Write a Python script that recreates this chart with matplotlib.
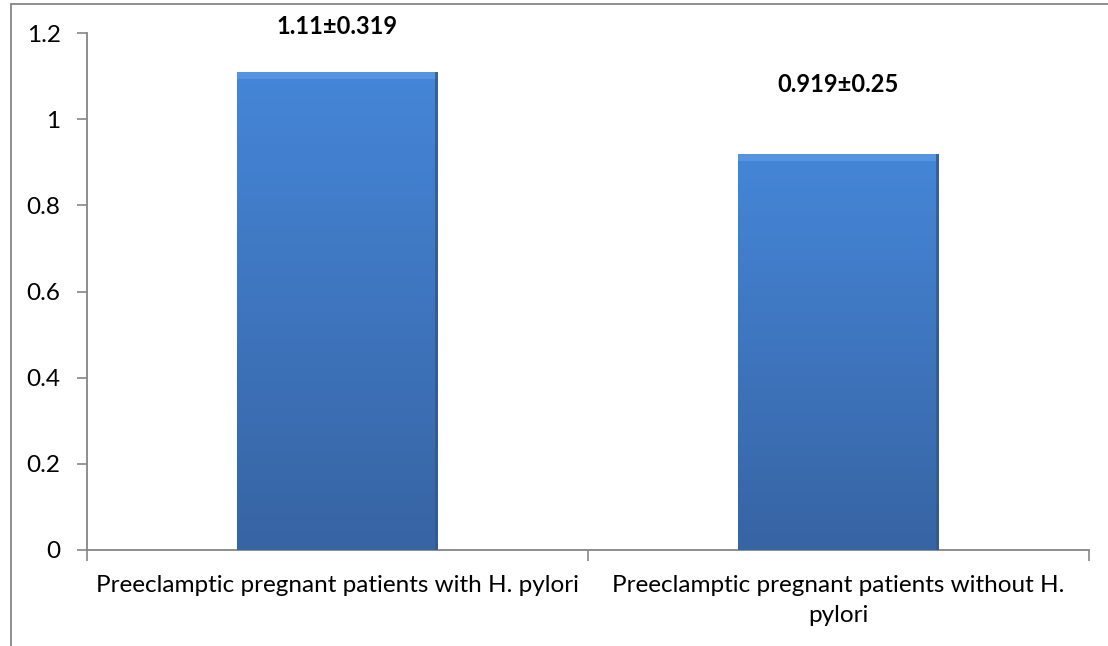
import numpy as np
import matplotlib
matplotlib.use('Agg')
from matplotlib import pyplot as plt
from matplotlib.patches import Rectangle
from matplotlib.colors import LinearSegmentedColormap

# data
categories = ['Preeclamptic pregnant patients with H. pylori',
              'Preeclamptic pregnant patients without H.\npylori']
values = [1.11, 0.919]
labels = ['1.11\u00b10.319', '0.919\u00b10.25']
label_y = [1.215, 1.08]
yticks = [0, 0.2, 0.4, 0.6, 0.8, 1.0, 1.2]
ytick_labels = ['0', '0.2', '0.4', '0.6', '0.8', '1', '1.2']

plt.rcParams['font.family'] = ['Lato', 'DejaVu Sans']
grey = '#868686'

fig = plt.figure(figsize=(11.08, 6.46), dpi=100)
ax = fig.add_axes([87/1108, 96/646, (1089-87)/1108, (550-33)/646])

# outer chart-area border (only left and top visible)
fig.add_artist(Rectangle((11/1108, -0.1), 1.2, (646-4)/646 + 0.1,
                         transform=fig.transFigure, fill=False,
                         edgecolor=grey, linewidth=1.3))

x = np.arange(len(values))
bars = ax.bar(x, values, width=0.4, color='#3f78c4', zorder=2)

cmap = LinearSegmentedColormap.from_list('blue', ['#3764a3', '#4586d8'])
grad = np.linspace(0, 1, 256).reshape(-1, 1)
for b in bars:
    x0, w, h = b.get_x(), b.get_width(), b.get_height()
    im = ax.imshow(grad, cmap=cmap, origin='lower', aspect='auto',
                   extent=[x0, x0 + w, 0, h], zorder=3)
    im.set_clip_path(b)
    # soft bevel along the top and a darker right edge
    ax.add_patch(Rectangle((x0, h - 0.016), w, 0.016, color='#5d99e2',
                           zorder=4, linewidth=0, alpha=0.8))
    ax.add_patch(Rectangle((x0 + w * 0.988, 0), w * 0.012, h, color='#30598f',
                           zorder=4, linewidth=0, alpha=0.8))

for xi, t, yy in zip(x, labels, label_y):
    ax.text(xi, yy, t, ha='center', va='center', fontsize=17,
            fontweight='bold', clip_on=False)

ax.set_xlim(-0.5, 1.5)
ax.set_ylim(0, 1.2)
ax.set_yticks(yticks)
ax.set_yticklabels(ytick_labels, fontsize=17.5)
ax.set_xticks(x)
ax.set_xticklabels(categories, fontsize=17.5, linespacing=1.55)
ax.set_xticks([-0.5, 0.5, 1.5], minor=True)
ax.tick_params(axis='x', which='major', length=0, pad=18)
ax.tick_params(axis='x', which='minor', length=8, color=grey, width=1.2)
ax.tick_params(axis='y', length=7, color=grey, width=1.2, pad=12)

for s in ['top', 'right']:
    ax.spines[s].set_visible(False)
for s in ['left', 'bottom']:
    ax.spines[s].set_color(grey)
    ax.spines[s].set_linewidth(1.3)

fig.savefig('out.png', dpi=100)
